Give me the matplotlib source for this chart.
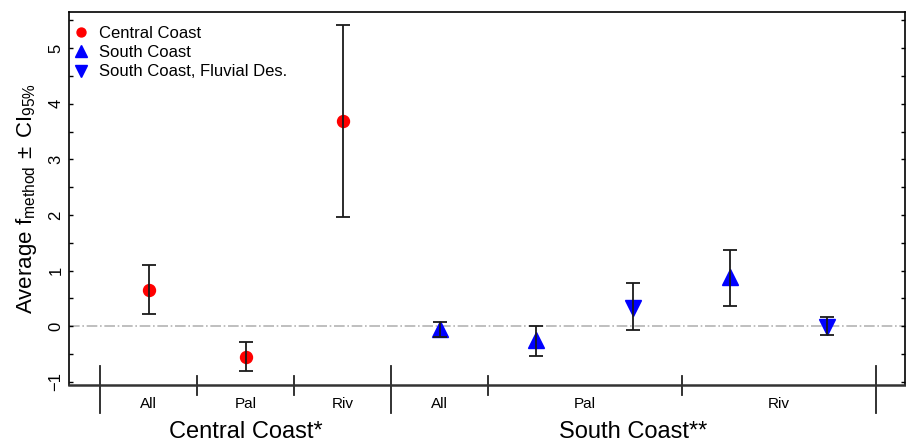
import numpy as np
import matplotlib
matplotlib.use("Agg")
import matplotlib.pyplot as plt

plt.rcParams['font.family'] = ['Liberation Sans', 'DejaVu Sans']
plt.rcParams['mathtext.default'] = 'regular'

# data
series = ["Central Coast", "South Coast", "South Coast, Fluvial Des."]
cc_x = [0.5, 1.5, 2.5]
cc_mean = [0.65, -0.56, 3.69]
cc_lo = [0.22, -0.81, 1.97]
cc_hi = [1.10, -0.29, 5.41]

sc_x = [3.5, 4.5, 6.5]
sc_mean = [-0.05, -0.25, 0.89]
sc_lo = [-0.19, -0.54, 0.37]
sc_hi = [0.08, 0.01, 1.38]

scf_x = [5.5, 7.5]
scf_mean = [0.32, -0.02]
scf_lo = [-0.07, -0.15]
scf_hi = [0.78, 0.17]

sub_labels = ["All", "Pal", "Riv", "All", "Pal", "Riv"]
sub_pos = [0.5, 1.5, 2.5, 3.5, 5.0, 7.0]
group_labels = ["Central Coast*", "South Coast**"]
group_pos = [1.5, 5.5]
long_seps = [0, 3, 8]
short_seps = [1, 2, 4, 6]

fig = plt.figure(figsize=(9.06, 4.43), dpi=100)
ax = fig.add_axes([0.0762, 0.1309, 0.9227, 0.842])

ax.axhline(0, color='#b4b4b4', linestyle='-.', linewidth=1.2, zorder=1)

def draw(x, m, lo, hi, marker, color, ms, label):
    m = np.array(m); lo = np.array(lo); hi = np.array(hi)
    ax.plot(x, m, linestyle='none', marker=marker, color=color, ms=ms, zorder=2, label=label)
    ax.errorbar(x, m, yerr=[m - lo, hi - m], fmt='none', ecolor='#1a1a1a',
                elinewidth=1.3, capsize=4.7, capthick=1.3, zorder=3)

draw(cc_x, cc_mean, cc_lo, cc_hi, 'o', '#ff0000', 8.6, series[0])
draw(sc_x, sc_mean, sc_lo, sc_hi, '^', '#0000ff', 11, series[1])
draw(scf_x, scf_mean, scf_lo, scf_hi, 'v', '#0000ff', 11, series[2])

ax.set_xlim(-0.32, 8.30)
ax.set_ylim(-1.056, 5.65)

ax.set_xticks([])
ax.set_yticks(range(-1, 6))
ax.set_yticks(np.arange(-1, 5.6, 0.5), minor=True)
ax.tick_params(axis='y', which='both', direction='in', right=True, length=3, width=1,
               labelsize=12, pad=4)
for t in ax.get_yticklabels():
    t.set_rotation(90)
    t.set_va('center')

for s in ['top', 'left', 'right']:
    ax.spines[s].set_linewidth(1.2)
ax.spines['bottom'].set_linewidth(1.8)
ax.spines['bottom'].set_color('#333333')

ax.set_ylabel(r'Average f$_{method}$$\,\pm\,$CI$_{95\%}$', fontsize=16, labelpad=7)

# category separators and labels below the axis
tr = ax.get_xaxis_transform()
for xs in long_seps:
    ax.plot([xs, xs], [0.051, -0.075], color='#222222', lw=1.3, transform=tr, clip_on=False)
for xs in short_seps:
    ax.plot([xs, xs], [0.025, -0.027], color='#222222', lw=1.3, transform=tr, clip_on=False)
for lab, xp in zip(sub_labels, sub_pos):
    ax.text(xp, -0.051, lab, transform=tr, ha='center', va='center', fontsize=11)
for lab, xp in zip(group_labels, group_pos):
    ax.text(xp, -0.125, lab, transform=tr, ha='center', va='center', fontsize=17)

ax.legend(loc='upper left', bbox_to_anchor=(-0.006, 0.989), frameon=False, fontsize=12,
          markerscale=0.75, handlelength=0.8, handletextpad=0.7, labelspacing=0.25,
          borderaxespad=0.3, borderpad=0.3)

fig.savefig('out.png', dpi=100)
